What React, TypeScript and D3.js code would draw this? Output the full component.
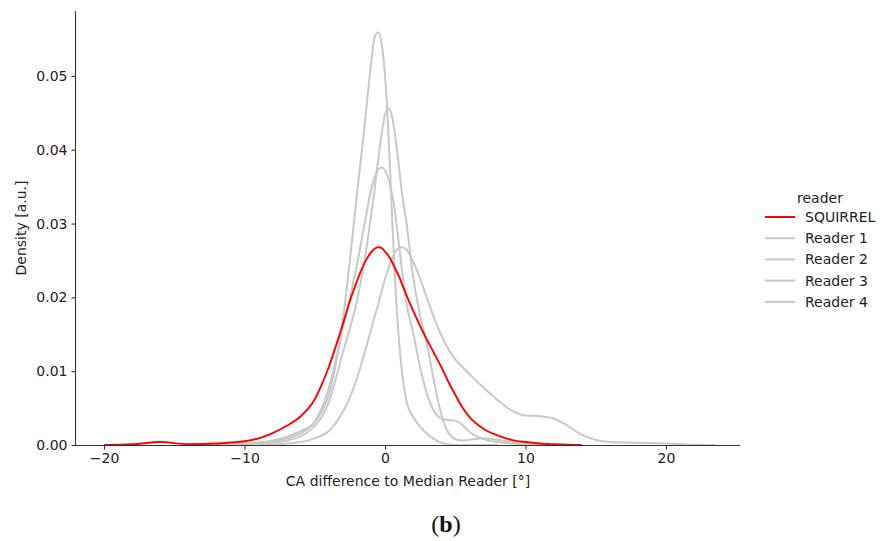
import * as d3 from 'd3';
import React, { useRef, useEffect } from 'react';

// shared x grid (CA difference, degrees)
const gridX = [-20, -18, -16, -14, -12, -10, -9, -8, -7, -6, -5, -4.5, -4, -3.5, -3, -2.5, -2, -1.5, -1, -0.75,
  -0.5, -0.25, 0, 0.25, 0.5, 0.75, 1, 1.25, 1.5, 2, 2.5, 3, 3.5, 4, 4.5, 5, 5.5, 6, 7, 8,
  9, 10, 11, 12, 13, 14, 16, 18, 20, 22, 23.5];

const squirrel = [0, 0.0001, 0.0004, 0.0001, 0.0002, 0.0005, 0.0009, 0.0016, 0.0026, 0.0039, 0.0062, 0.0082, 0.0106, 0.0134, 0.0164, 0.0195, 0.0222, 0.0245, 0.0261, 0.0266,
  0.0268, 0.0267, 0.0262, 0.0256, 0.0248, 0.0238, 0.0228, 0.0216, 0.0204, 0.0182, 0.0161, 0.0142, 0.0124, 0.0106, 0.0086, 0.0068, 0.0051, 0.0038, 0.0022, 0.0013,
  0.0007, 0.0004, 0.0002, 0.0001, 0.00003, 0, null, null, null, null, null];

const reader1 = [null, null, null, 0, 0.0001, 0.0002, 0.0003, 0.0006, 0.0011, 0.0019, 0.0031, 0.0045, 0.0068, 0.011, 0.017, 0.025, 0.034, 0.0425, 0.0515, 0.0552,
  0.0559, 0.0545, 0.050, 0.042, 0.031, 0.021, 0.014, 0.0092, 0.0062, 0.0038, 0.0025, 0.0015, 0.0008, 0.0003, 0.0001, 0, 0, 0, 0, 0,
  null, null, null, null, null, null, null, null, null, null, null];

const reader2 = [null, null, null, 0, 0.0001, 0.0001, 0.0002, 0.0003, 0.0006, 0.0012, 0.0026, 0.0038, 0.0058, 0.009, 0.0125, 0.0158, 0.0195, 0.0245, 0.031, 0.0345,
  0.0385, 0.042, 0.0448, 0.0456, 0.0445, 0.0415, 0.0375, 0.0335, 0.0305, 0.0228, 0.0175, 0.0135, 0.0085, 0.0042, 0.0017, 0.0008, 0.0006, 0.0007, 0.0009, 0.0007,
  0.0004, 0.0002, 0.0001, 0.00005, 0, null, null, null, null, null, null];

const reader3 = [null, null, null, 0, 0.0001, 0.0002, 0.0003, 0.0005, 0.0009, 0.0016, 0.0032, 0.005, 0.0078, 0.0115, 0.0158, 0.020, 0.0244, 0.0295, 0.0345, 0.0362,
  0.0373, 0.0376, 0.0372, 0.036, 0.034, 0.031, 0.027, 0.023, 0.0195, 0.0152, 0.0105, 0.0068, 0.0045, 0.0036, 0.0034, 0.0033, 0.0027, 0.0018, 0.0008, 0.0004,
  0.0002, 0.0001, 0.00005, 0, null, null, null, null, null, null, null];

const reader4 = [null, null, null, null, null, null, 0, 0.00005, 0.0002, 0.0004, 0.0009, 0.0013, 0.0019, 0.003, 0.0045, 0.0065, 0.009, 0.0122, 0.0156, 0.0173,
  0.019, 0.0208, 0.0225, 0.024, 0.0253, 0.0262, 0.0267, 0.0268, 0.0265, 0.0249, 0.0225, 0.0198, 0.0172, 0.0149, 0.013, 0.0116, 0.0106, 0.0096, 0.0078, 0.0061,
  0.0047, 0.0040, 0.0039, 0.0036, 0.0026, 0.0014, 0.0004, 0.0003, 0.0002, 0.00005, 0];

const readers = ['SQUIRREL', 'Reader 1', 'Reader 2', 'Reader 3', 'Reader 4'];
const seriesValues = [squirrel, reader1, reader2, reader3, reader4];
const xTicks = [-20, -10, 0, 10, 20];
const yTicks = [0, 0.01, 0.02, 0.03, 0.04, 0.05];

const RED = '#ff0000';
const GREY = '#c8c8c8';
const FONT = 'DejaVu Sans, sans-serif';
const FS = '14px';

function DensityChart({ width, height }) {
  const ref = useRef();

  useEffect(() => {
    const svg = d3.select(ref.current);
    svg.selectAll('*').remove();

    const left = 76, right = 740, top = 11, bottom = 445;
    const x = d3.scaleLinear().domain([-22, 25.27]).range([left, right]);
    const y = d3.scaleLinear().domain([0, 0.0588]).range([bottom, top]);

    const line = d3.line()
      .defined((d) => d[1] != null)
      .x((d) => x(d[0]))
      .y((d) => y(d[1]))
      .curve(d3.curveMonotoneX);

    // greys first, red on top
    const order = [1, 2, 3, 4, 0];
    order.forEach((i) => {
      const pts = gridX.map((v, j) => [v, seriesValues[i][j]]);
      svg.append('path')
        .attr('d', line(pts))
        .attr('fill', 'none')
        .attr('stroke', i === 0 ? RED : GREY)
        .attr('stroke-width', i === 0 ? 1.9 : 2)
        .attr('stroke-linejoin', 'round');
    });

    const xAxis = svg.append('g')
      .attr('transform', `translate(0,${bottom})`)
      .call(d3.axisBottom(x).tickValues(xTicks).tickSize(4.5).tickPadding(4).tickFormat((d) => String(d).replace('-', '\u2212')));
    const yAxis = svg.append('g')
      .attr('transform', `translate(${left},0)`)
      .call(d3.axisLeft(y).tickValues(yTicks).tickSize(4.5).tickPadding(4).tickFormat(d3.format('.2f')));

    [xAxis, yAxis].forEach((g) => {
      g.select('.domain').attr('stroke', '#333').attr('stroke-width', 1.1);
      g.selectAll('.tick line').attr('stroke', '#333').attr('stroke-width', 1.1);
      g.selectAll('.tick text').attr('fill', '#222').style('font-family', FONT).style('font-size', FS);
    });
    xAxis.select('.domain').attr('d', `M${left},0.5H${right}`);
    yAxis.select('.domain').attr('d', `M-0.5,${top}V${bottom}`);

    svg.append('text')
      .attr('x', (left + right) / 2)
      .attr('y', 486)
      .attr('text-anchor', 'middle')
      .style('font-family', FONT)
      .style('font-size', FS)
      .attr('fill', '#222')
      .text('CA difference to Median Reader [°]');

    svg.append('text')
      .attr('transform', `translate(26,${(top + bottom) / 2}) rotate(-90)`)
      .attr('text-anchor', 'middle')
      .style('font-family', FONT)
      .style('font-size', FS)
      .attr('fill', '#222')
      .text('Density [a.u.]');

    // legend
    const lg = svg.append('g').attr('transform', 'translate(765,0)');
    lg.append('text')
      .attr('x', 55).attr('y', 203)
      .attr('text-anchor', 'middle')
      .style('font-family', FONT).style('font-size', FS).attr('fill', '#222')
      .text('reader');
    readers.forEach((r, i) => {
      const yy = 217 + i * 21.2;
      lg.append('line')
        .attr('x1', 0).attr('x2', 30).attr('y1', yy).attr('y2', yy)
        .attr('stroke', i === 0 ? RED : GREY).attr('stroke-width', 2);
      lg.append('text')
        .attr('x', 40).attr('y', yy + 5)
        .style('font-family', FONT).style('font-size', FS).attr('fill', '#222')
        .text(r);
    });

    svg.append('text')
      .attr('x', 446).attr('y', 532)
      .attr('text-anchor', 'middle')
      .style('font-family', 'Liberation Serif, serif')
      .style('font-size', '24px')
      .attr('fill', '#111')
      .html('(<tspan font-weight="bold">b</tspan>)');
  }, []);

  return <svg ref={ref} width={width} height={height} style={{ display: 'block' }} />;
}

export default function App() {
  return (
    <div style={{ position: 'absolute', left: 0, top: 0 }}>
      <DensityChart width={880} height={541} />
    </div>
  );
}
